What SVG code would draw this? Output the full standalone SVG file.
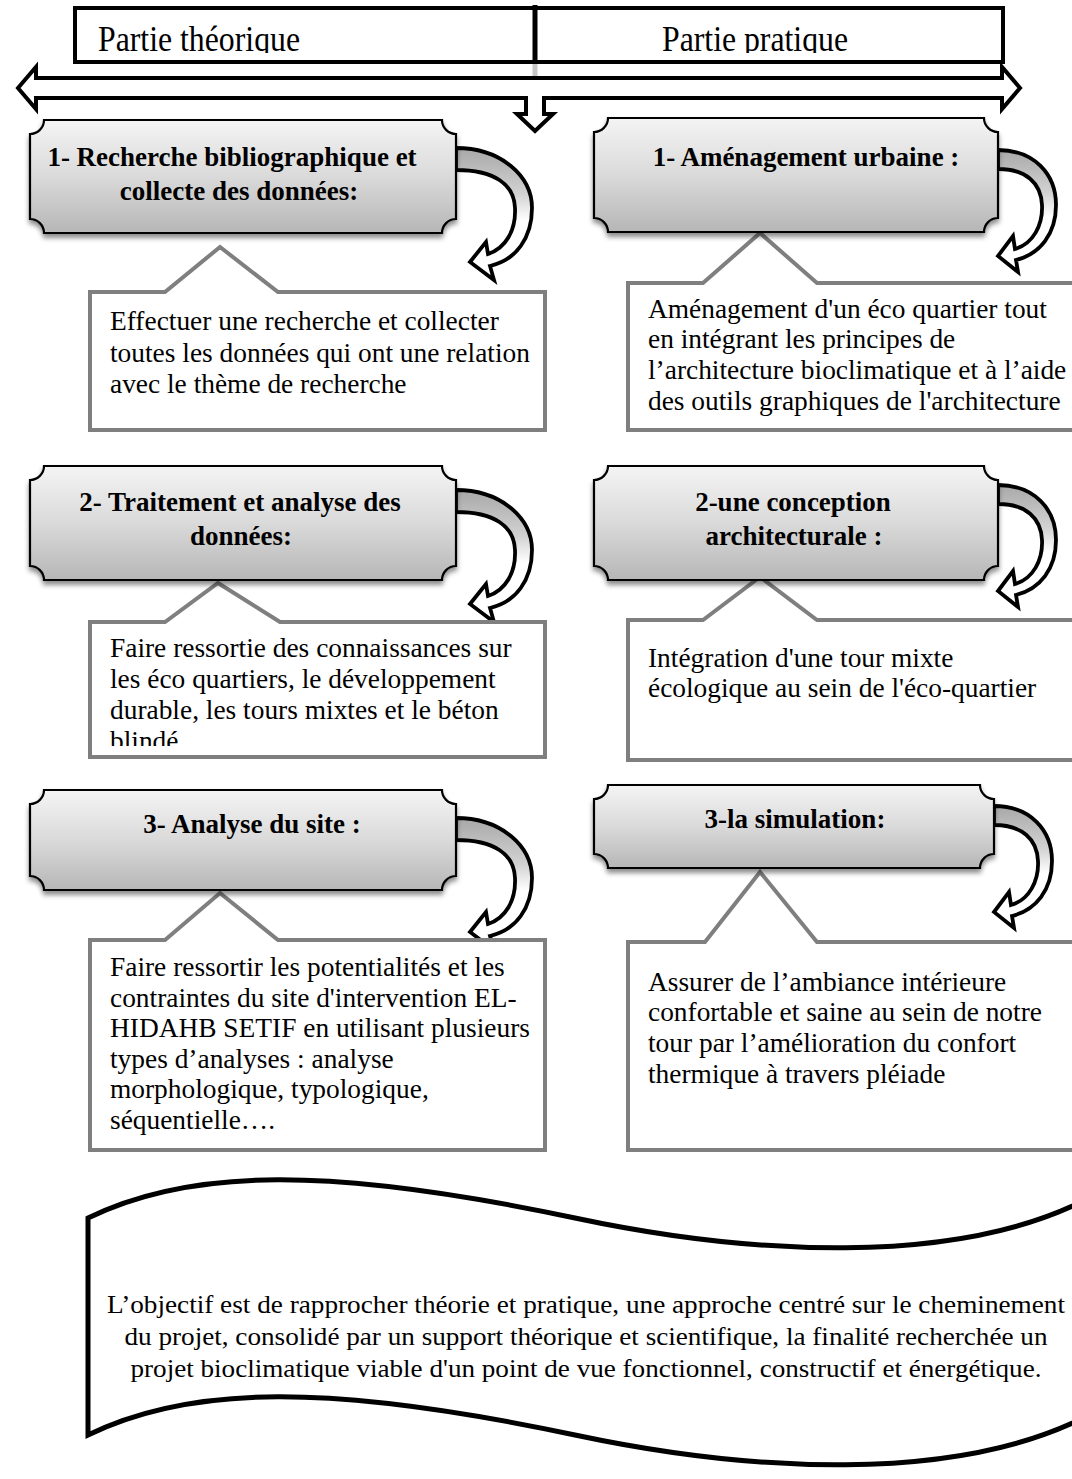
<svg xmlns="http://www.w3.org/2000/svg" width="1072" height="1479" viewBox="0 0 1072 1479">
<style>
.hdr{font-family:"Liberation Serif","Times New Roman",serif;font-size:35px;fill:#000}
.b{font-family:"Liberation Serif","Times New Roman",serif;font-size:27px;font-weight:bold;text-anchor:middle;fill:#000}
.t{font-family:"Liberation Serif","Times New Roman",serif;font-size:27.4px;fill:#000}
.bn{font-family:"Liberation Serif","Times New Roman",serif;font-size:26px;text-anchor:middle;fill:#000}
.plaque{fill:url(#plaqueGrad);stroke:#000;stroke-width:2.2;filter:url(#shadow)}
.callout{fill:#fff;stroke:#7f7f7f;stroke-width:4;stroke-linejoin:miter}
.carrow{fill:url(#arrowGrad);stroke:#000;stroke-width:3.8;stroke-linejoin:miter}
</style>
<defs>
<linearGradient id="plaqueGrad" x1="0" y1="0" x2="0" y2="1">
<stop offset="0" stop-color="#f4f4f4"/>
<stop offset="0.5" stop-color="#dadada"/>
<stop offset="1" stop-color="#b6b6b6"/>
</linearGradient>
<linearGradient id="arrowGrad" x1="0" y1="0" x2="0" y2="1">
<stop offset="0" stop-color="#a8a8a8"/>
<stop offset="0.35" stop-color="#d2d2d2"/>
<stop offset="0.55" stop-color="#ffffff"/>
<stop offset="1" stop-color="#ffffff"/>
</linearGradient>
<filter id="shadow" x="-5%" y="-10%" width="110%" height="130%">
<feDropShadow dx="0" dy="4" stdDeviation="2.5" flood-color="#000" flood-opacity="0.45"/>
</filter>
<clipPath id="hdrClip"><rect x="75" y="8" width="928" height="45"/></clipPath>
<clipPath id="l2Clip"><rect x="92" y="622" width="452" height="124"/></clipPath>
<path id="arrowL" d="M0,0 C45,0 76,28 76,60 C76,90 60,112 34,118 L38,132 L14,114 L30,94 L32,106 C50,100 60,82 59,60 C58,36 38,22 0,22 Z"/>
<path id="arrowR" d="M0,0 C36,0 58,24 58,55 C58,84 42,104 18,110 L20,122 L0,106 L15,86 L17,99 C35,94 45,75 44,55 C43,33 28,19 0,19 Z"/>
</defs>

<rect width="1072" height="1479" fill="#fff"/>

<g id="header">
<rect x="75" y="8" width="928" height="54" fill="#fff" stroke="#000" stroke-width="4"/>
<line x1="535" y1="5" x2="535" y2="64" stroke="#000" stroke-width="5"/>
<line x1="535" y1="64" x2="535" y2="76" stroke="#c8c8c8" stroke-width="5"/>
<g clip-path="url(#hdrClip)">
<text class="hdr" x="98" y="51" textLength="202" lengthAdjust="spacingAndGlyphs">Partie théorique</text>
<text class="hdr" x="662" y="51" textLength="186" lengthAdjust="spacingAndGlyphs">Partie pratique</text>
</g>
</g>

<g id="connectors">
<polygon points="18,88 36,67 36,78 1002,78 1002,67 1020,88 1002,109 1002,98 544,98 544,114 553,114 535,131 517,114 526,114 526,98 36,98 36,109" fill="#fff" stroke="#000" stroke-width="4"/>
<use href="#arrowL" class="carrow" transform="translate(456,148)"/>
<use href="#arrowL" class="carrow" transform="translate(456,490)"/>
<use href="#arrowL" class="carrow" transform="translate(456,818)"/>
<use href="#arrowR" class="carrow" transform="translate(998,150)"/>
<use href="#arrowR" class="carrow" transform="translate(998,485)"/>
<use href="#arrowR" class="carrow" transform="translate(994,806)"/>
</g>

<g id="callout-l1">
<path class="callout" d="M90,292 H165 L220,247 L278,292 H545 V430 H90 Z"/>
<text class="t" x="110" y="330">Effectuer une recherche et collecter</text>
<text class="t" x="110" y="362">toutes les données qui ont une relation</text>
<text class="t" x="110" y="393">avec le thème de recherche</text>
</g>
<g id="callout-l2">
<path class="callout" d="M90,622 H165 L218,583 L280,622 H545 V757 H90 Z"/>
<g clip-path="url(#l2Clip)">
<text class="t" x="110" y="657">Faire ressortie des connaissances sur</text>
<text class="t" x="110" y="688">les éco quartiers, le développement</text>
<text class="t" x="110" y="719">durable, les tours mixtes et le béton</text>
<text class="t" x="110" y="750">blindé</text>
</g>
</g>
<g id="callout-l3">
<path class="callout" d="M90,940 H165 L220,893 L278,940 H545 V1150 H90 Z"/>
<text class="t" x="110" y="976">Faire ressortir les potentialités et les</text>
<text class="t" x="110" y="1007">contraintes du site d'intervention EL-</text>
<text class="t" x="110" y="1037">HIDAHB SETIF en utilisant plusieurs</text>
<text class="t" x="110" y="1068">types d’analyses : analyse</text>
<text class="t" x="110" y="1098">morphologique, typologique,</text>
<text class="t" x="110" y="1129">séquentielle….</text>
</g>
<g id="callout-r1">
<path class="callout" d="M628,283 H703 L760,233 L817,283 H1085 V430 H628 Z"/>
<text class="t" x="648" y="318">Aménagement d'un éco quartier tout</text>
<text class="t" x="648" y="348">en intégrant les principes de</text>
<text class="t" x="648" y="379">l’architecture bioclimatique et à l’aide</text>
<text class="t" x="648" y="410">des outils graphiques de l'architecture</text>
</g>
<g id="callout-r2">
<path class="callout" d="M628,620 H703 L760,577 L817,620 H1085 V760 H628 Z"/>
<text class="t" x="648" y="667">Intégration d'une tour mixte</text>
<text class="t" x="648" y="697">écologique au sein de l'éco-quartier</text>
</g>
<g id="callout-r3">
<path class="callout" d="M628,942 H705 L760,872 L817,942 H1085 V1150 H628 Z"/>
<text class="t" x="648" y="991">Assurer de l’ambiance intérieure</text>
<text class="t" x="648" y="1021">confortable et saine au sein de notre</text>
<text class="t" x="648" y="1052">tour par l’amélioration du confort</text>
<text class="t" x="648" y="1083">thermique à travers  pléiade</text>
</g>

<g id="box-l1">
<path class="plaque" d="M44,120 H442 A14,14 0 0 0 456,134 V219 A14,14 0 0 0 442,233 H44 A14,14 0 0 0 30,219 V134 A14,14 0 0 0 44,120 Z"/>
<text class="b" x="232" y="166">1- Recherche bibliographique et</text>
<text class="b" x="239" y="200">collecte des données:</text>
</g>
<g id="box-l2">
<path class="plaque" d="M44,466 H442 A14,14 0 0 0 456,480 V566 A14,14 0 0 0 442,580 H44 A14,14 0 0 0 30,566 V480 A14,14 0 0 0 44,466 Z"/>
<text class="b" x="240" y="511">2- Traitement et analyse des</text>
<text class="b" x="241" y="545">données:</text>
</g>
<g id="box-l3">
<path class="plaque" d="M44,790 H442 A14,14 0 0 0 456,804 V876 A14,14 0 0 0 442,890 H44 A14,14 0 0 0 30,876 V804 A14,14 0 0 0 44,790 Z"/>
<text class="b" x="252" y="833">3- Analyse du site :</text>
</g>
<g id="box-r1">
<path class="plaque" d="M608,118 H984 A14,14 0 0 0 998,132 V218 A14,14 0 0 0 984,232 H608 A14,14 0 0 0 594,218 V132 A14,14 0 0 0 608,118 Z"/>
<text class="b" x="806" y="166">1- Aménagement urbaine :</text>
</g>
<g id="box-r2">
<path class="plaque" d="M608,466 H984 A14,14 0 0 0 998,480 V566 A14,14 0 0 0 984,580 H608 A14,14 0 0 0 594,566 V480 A14,14 0 0 0 608,466 Z"/>
<text class="b" x="793" y="511">2-une conception</text>
<text class="b" x="794" y="545">architecturale :</text>
</g>
<g id="box-r3">
<path class="plaque" d="M608,785 H980 A14,14 0 0 0 994,799 V854 A14,14 0 0 0 980,868 H608 A14,14 0 0 0 594,854 V799 A14,14 0 0 0 608,785 Z"/>
<text class="b" x="795" y="828">3-la simulation:</text>
</g>

<g id="banner">
<path d="M88,1218 C190,1168 330,1166 575,1218 C735,1252 960,1272 1100,1192 L1100,1409 C960,1489 735,1469 575,1435 C330,1383 190,1385 88,1435 Z" fill="#fff" stroke="#000" stroke-width="5"/>
<text class="bn" x="586" y="1313" textLength="958" lengthAdjust="spacingAndGlyphs">L’objectif est de rapprocher théorie et pratique, une approche centré sur le cheminement</text>
<text class="bn" x="586" y="1345" textLength="923" lengthAdjust="spacingAndGlyphs">du projet, consolidé par un support théorique et scientifique, la finalité recherchée un</text>
<text class="bn" x="586" y="1377" textLength="911" lengthAdjust="spacingAndGlyphs">projet bioclimatique viable d'un point de vue fonctionnel, constructif et énergétique.</text>
</g>
</svg>
